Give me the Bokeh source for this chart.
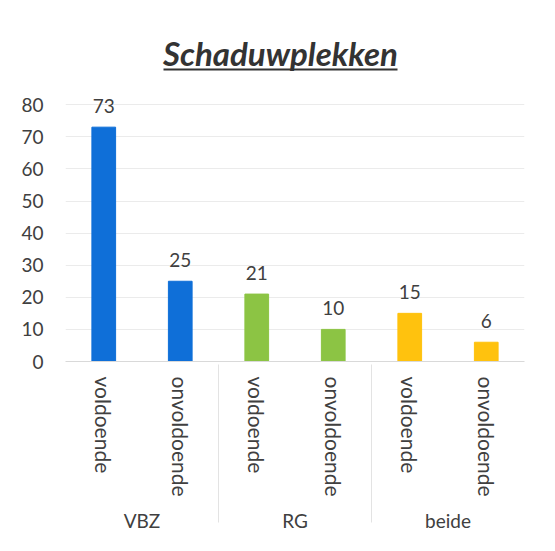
from bokeh.plotting import figure
from bokeh.models import FactorRange, ColumnDataSource, BoxAnnotation, FixedTicker, Label
from bokeh.core.properties import value
from bokeh.embed import file_html
from bokeh.resources import INLINE

groups = ["VBZ", "VBZ", "RG", "RG", "beide", "beide"]
subcats = ["voldoende", "onvoldoende", "voldoende", "onvoldoende", "voldoende", "onvoldoende"]
counts = [73, 25, 21, 10, 15, 6]
colors = ["#0F6FD8", "#0F6FD8", "#8CC444", "#8CC444", "#FFC20E", "#FFC20E"]
y_ticks = [0, 10, 20, 30, 40, 50, 60, 70, 80]
title_text = "Schaduwplekken"

factors = list(zip(groups, subcats))
src = ColumnDataSource(dict(x=factors, top=counts, color=colors, label=[str(c) for c in counts]))

FONT = "Lato"
TXT = "#404040"
TITLE_C = "#333333"

p = figure(width=539, height=535, output_backend="svg", toolbar_location=None,
           x_range=FactorRange(*factors, factor_padding=0, group_padding=0, range_padding=0),
           y_range=(0, 100), min_border_left=65, min_border_right=15,
           min_border_top=40, min_border_bottom=174)
p.outline_line_color = None
p.background_fill_color = "white"
p.border_fill_color = "white"

p.vbar(x="x", top="top", width=0.31, color="color", source=src)
p.text(x="x", y="top", text="label", source=src, text_align="center", text_baseline="bottom",
       y_offset=-14, text_font=value(FONT), text_font_size="19px", text_color=TXT)

p.add_layout(Label(x=215, y=309, x_units="screen", y_units="screen", text=title_text,
                   text_align="center", text_baseline="alphabetic",
                   text_font=FONT, text_font_style="bold italic", text_font_size="33px",
                   text_color=TITLE_C))
p.add_layout(BoxAnnotation(left=98, right=332, top=293, bottom=291,
                           left_units="screen", right_units="screen",
                           top_units="screen", bottom_units="screen",
                           fill_color=TITLE_C, fill_alpha=1, line_color=None))

p.yaxis.ticker = FixedTicker(ticks=y_ticks)
p.yaxis.axis_line_color = None
p.yaxis.major_tick_line_color = None
p.yaxis.minor_tick_line_color = None
p.yaxis.major_label_text_font = FONT
p.yaxis.major_label_text_font_size = "19px"
p.yaxis.major_label_text_color = TXT
p.yaxis.major_label_standoff = 16

p.xaxis.axis_line_color = "#d9d9d9"
p.xaxis.major_tick_line_color = None
p.xaxis.minor_tick_line_color = None
p.xaxis.major_label_orientation = "vertical"
p.xaxis.major_label_text_font = FONT
p.xaxis.major_label_text_font_size = "21px"
p.xaxis.major_label_text_color = TXT
p.xaxis.major_label_standoff = 9
p.xaxis.group_text_font = FONT
p.xaxis.group_text_font_size = "19px"
p.xaxis.group_text_font_style = "normal"
p.xaxis.group_text_color = TXT
p.xaxis.group_label_orientation = "horizontal"
p.xaxis.separator_line_color = "#e3e3e3"
p.xaxis.separator_line_width = 1

p.xgrid.grid_line_color = None
p.ygrid.grid_line_color = "#ebebeb"

open("out.html", "w").write(file_html(p, INLINE))
